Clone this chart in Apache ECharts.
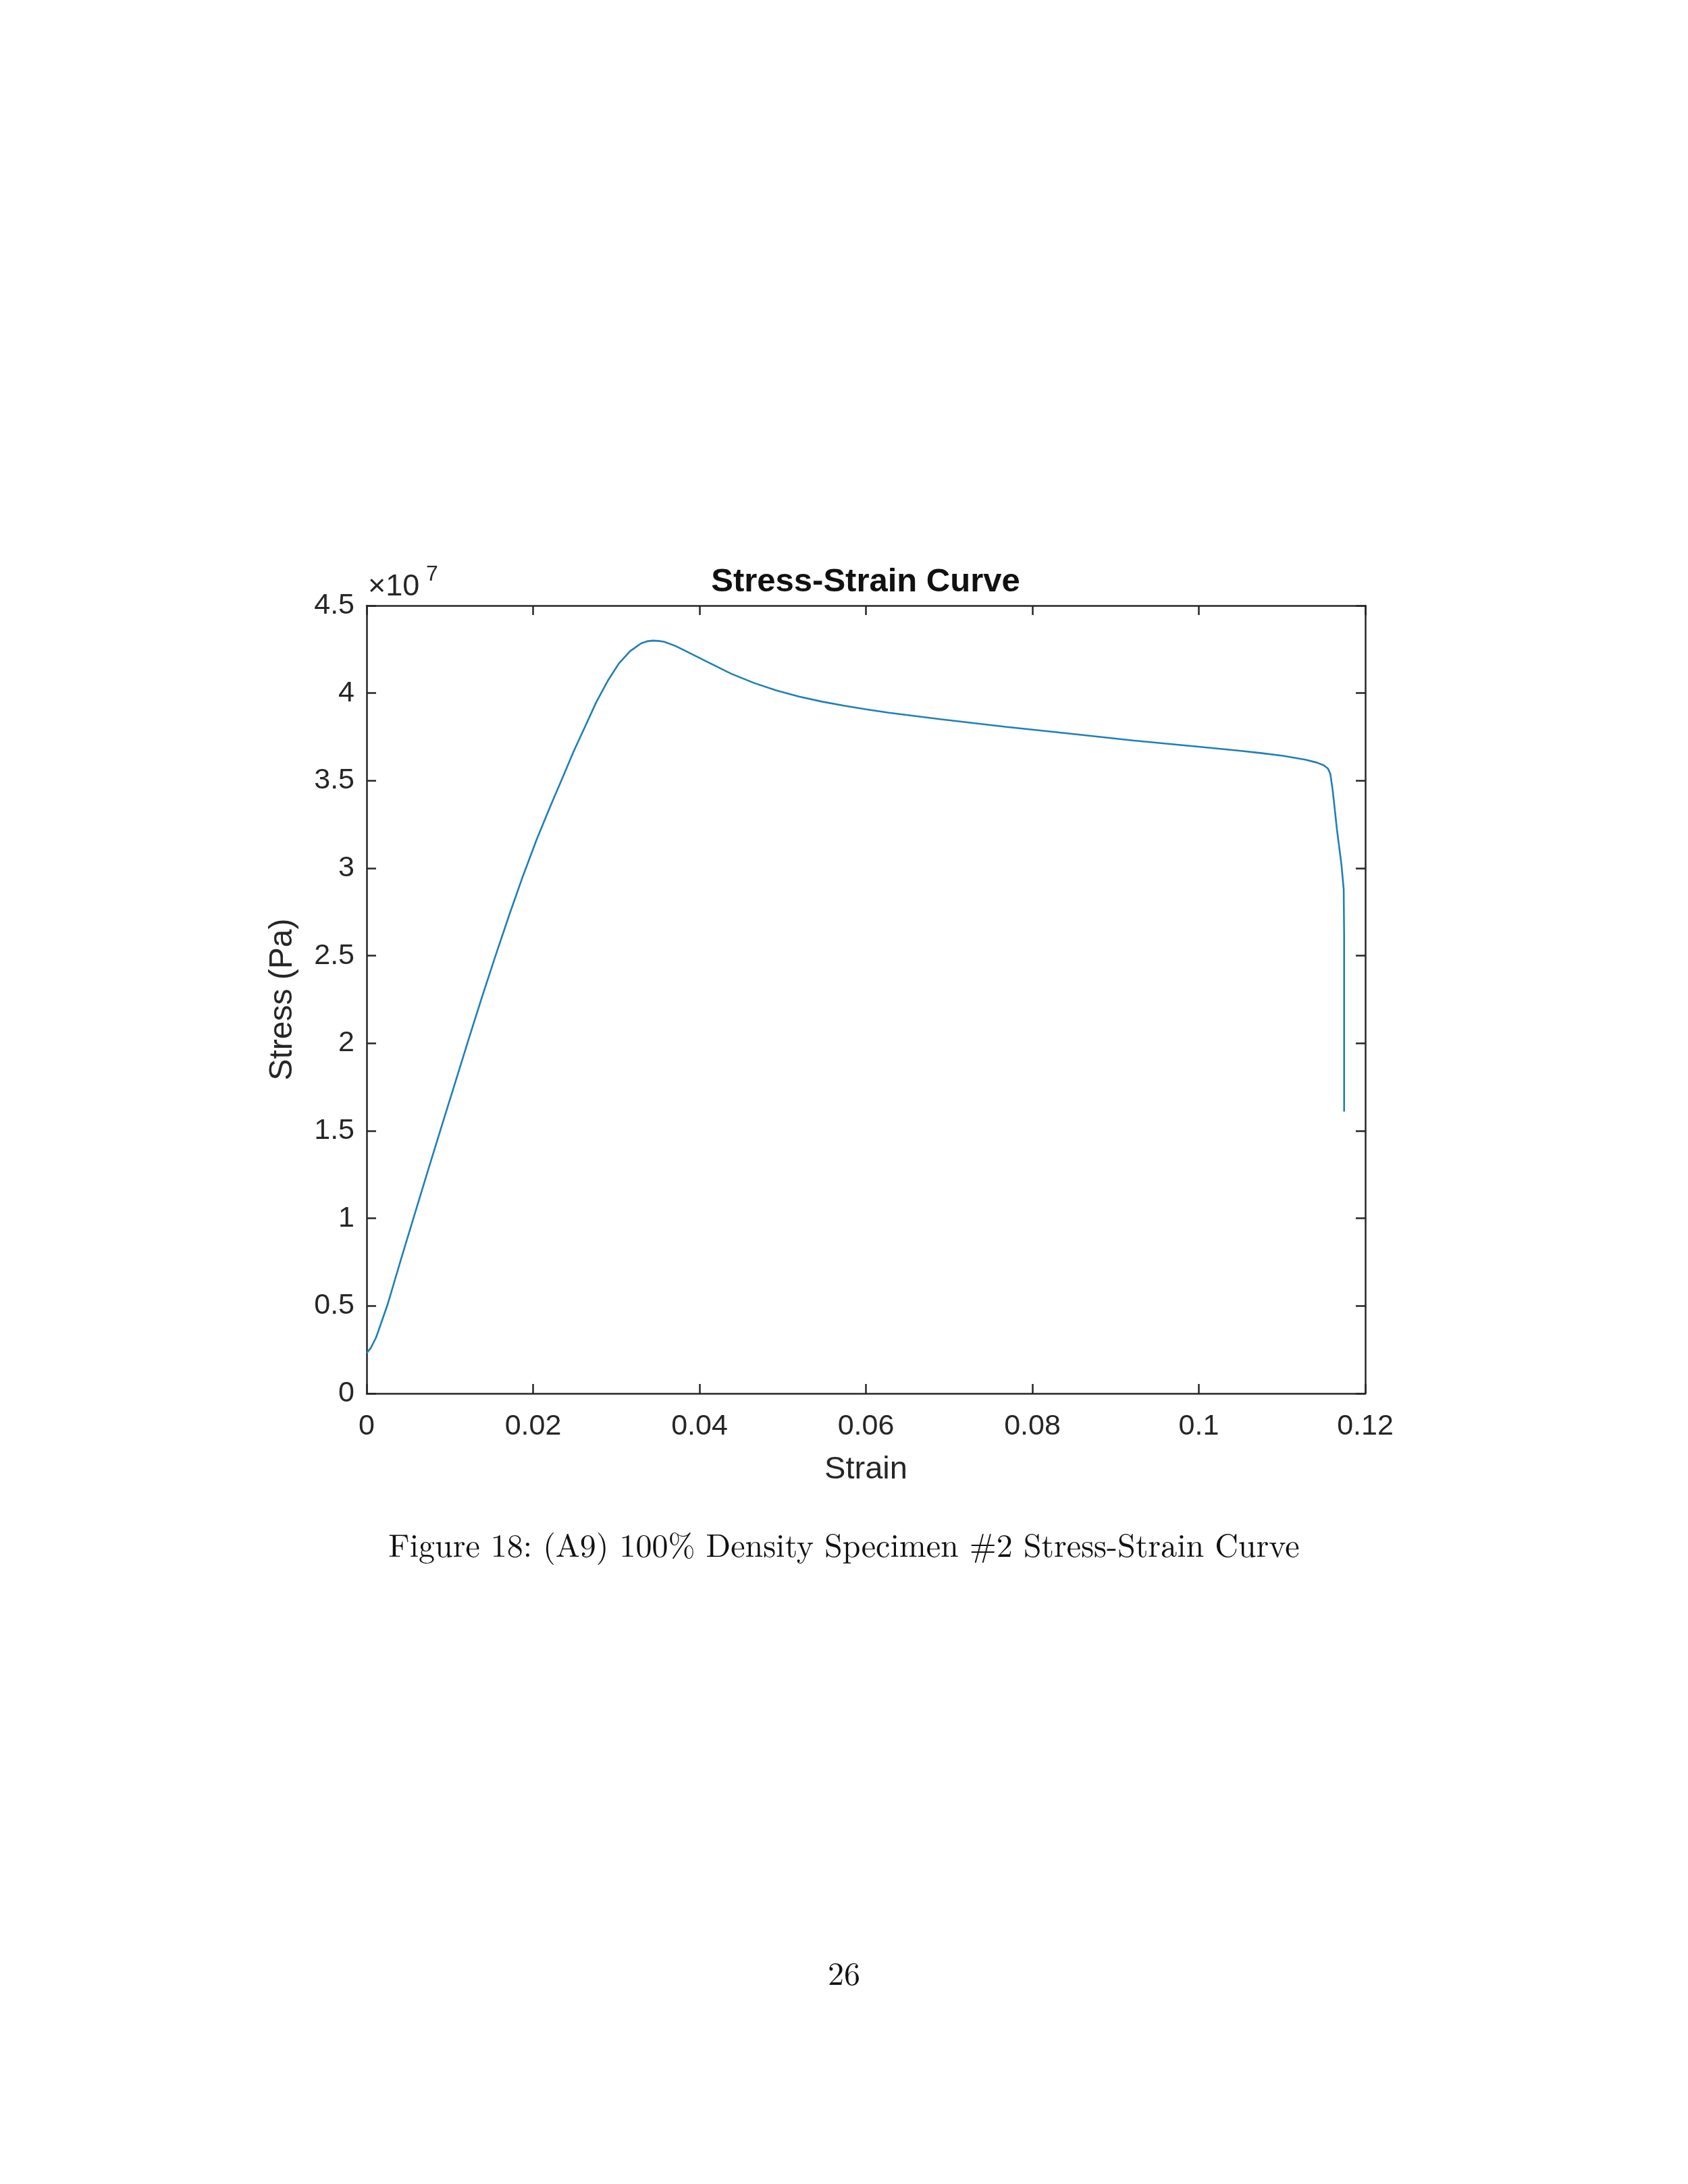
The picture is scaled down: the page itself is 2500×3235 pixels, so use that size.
<!DOCTYPE html>
<html>
<head>
<meta charset="utf-8">
<style>
  html, body { margin: 0; padding: 0; background: #ffffff; }
  #chart { width: 2500px; height: 3235px; }
</style>
<script src="https://cdn.jsdelivr.net/npm/echarts@6.0.0/dist/echarts.min.js"></script>
</head>
<body>
<div id="chart"></div>
<script>
// ---- Data ----
const strain = [
  0, 0.0005, 0.00114, 0.0025, 0.00412, 0.00575, 0.00738, 0.0090, 0.01064, 0.01227,
  0.0139, 0.01552, 0.01715, 0.01878, 0.0204, 0.02204, 0.02366, 0.0249, 0.02626, 0.02761,
  0.02897, 0.03032, 0.03167, 0.03302, 0.0337, 0.03438, 0.03505, 0.03573, 0.03708, 0.03843,
  0.04114, 0.04384, 0.04655, 0.04925, 0.05195, 0.05466, 0.05736, 0.06006, 0.06277, 0.06907,
  0.07673, 0.08438, 0.09204, 0.0997, 0.1047, 0.1074, 0.1101, 0.1128, 0.1142, 0.1150,
  0.1155, 0.1158, 0.1161, 0.1166, 0.11714, 0.11741, 0.11746, 0.11746, 0.11746
];
const stress = [
  2.3e6, 2.6e6, 3.2e6, 5.05e6, 7.65e6, 10.2e6, 12.75e6, 15.25e6, 17.75e6, 20.25e6,
  22.7e6, 25.05e6, 27.35e6, 29.55e6, 31.6e6, 33.5e6, 35.3e6, 36.7e6, 38.1e6, 39.5e6,
  40.7e6, 41.7e6, 42.4e6, 42.85e6, 42.96e6, 43.0e6, 42.98e6, 42.94e6, 42.7e6, 42.38e6,
  41.74e6, 41.1e6, 40.58e6, 40.15e6, 39.8e6, 39.52e6, 39.28e6, 39.07e6, 38.88e6, 38.5e6,
  38.08e6, 37.69e6, 37.3e6, 36.95e6, 36.72e6, 36.58e6, 36.42e6, 36.2e6, 36.03e6, 35.88e6,
  35.7e6, 35.4e6, 34.4e6, 32.2e6, 30.2e6, 28.8e6, 26.2e6, 21.9e6, 16.1e6
];
const xTicks = [0, 0.02, 0.04, 0.06, 0.08, 0.1, 0.12];
const yTicks = [0, 0.5, 1, 1.5, 2, 2.5, 3, 3.5, 4, 4.5]; // x 1e7

const titleText = 'Stress-Strain Curve';
const xName = 'Strain';
const yName = 'Stress (Pa)';
const caption = 'Figure 18: (A9) 100% Density Specimen #2 Stress-Strain Curve';
const pageNum = '26';

// ---- Chart ----
const chart = echarts.init(document.getElementById('chart'), null, { renderer: 'canvas' });
const axisCol = '#262626';
const sans = '"Liberation Sans", Arial, Helvetica, sans-serif';
const serif = '"Latin Modern Roman", "Liberation Serif", "DejaVu Serif", serif';

const G = { left: 543, top: 897, width: 1479, height: 1167 };

const baseAxisLine = { show: true, onZero: false, lineStyle: { color: axisCol, width: 2.5 } };
const baseTick = { show: true, inside: true, length: 14, lineStyle: { color: axisCol, width: 2.5 } };

const xFmt = v => String(parseFloat(v.toFixed(3)));
const yFmt = v => String(parseFloat((v / 1e7).toFixed(2)));

const option = {
  backgroundColor: '#ffffff',
  animation: false,
  grid: { left: G.left, top: G.top, width: G.width, height: G.height, containLabel: false },
  xAxis: [
    {
      type: 'value', position: 'bottom',
      min: xTicks[0], max: xTicks[xTicks.length - 1], interval: 0.02,
      axisLine: baseAxisLine, axisTick: baseTick, splitLine: { show: false },
      axisLabel: { show: true, margin: 28, color: axisCol, fontSize: 43, fontFamily: sans, formatter: xFmt },
      name: xName, nameLocation: 'middle', nameGap: 90,
      nameTextStyle: { color: axisCol, fontSize: 47, fontFamily: sans }
    },
    {
      type: 'value', position: 'top',
      min: xTicks[0], max: xTicks[xTicks.length - 1], interval: 0.02,
      axisLine: baseAxisLine, axisTick: baseTick, splitLine: { show: false },
      axisLabel: { show: false }
    }
  ],
  yAxis: [
    {
      type: 'value', position: 'left',
      min: yTicks[0] * 1e7, max: yTicks[yTicks.length - 1] * 1e7, interval: 0.5e7,
      axisLine: baseAxisLine, axisTick: baseTick, splitLine: { show: false },
      axisLabel: { show: true, margin: 18, color: axisCol, fontSize: 43, fontFamily: sans, formatter: yFmt },
      name: yName, nameLocation: 'middle', nameGap: 100, nameRotate: 90,
      nameTextStyle: { color: axisCol, fontSize: 48, fontFamily: sans }
    },
    {
      type: 'value', position: 'right',
      min: yTicks[0] * 1e7, max: yTicks[yTicks.length - 1] * 1e7, interval: 0.5e7,
      axisLine: baseAxisLine, axisTick: baseTick, splitLine: { show: false },
      axisLabel: { show: false }
    }
  ],
  series: [
    {
      type: 'line',
      xAxisIndex: 0, yAxisIndex: 0,
      data: strain.map((s, i) => [s, stress[i]]),
      showSymbol: false, symbol: 'none',
      smooth: false,
      lineStyle: { color: '#1f7fb8', width: 2.6 },
      clip: true
    }
  ],
  graphic: [
    { type: 'text', x: 1282, y: 862, style: { text: titleText, fill: '#111111', font: 'bold 49px ' + sans, textAlign: 'center', textVerticalAlign: 'middle' }, z: 10 },
    { type: 'text', x: 545, y: 870, style: { text: '×10', fill: axisCol, font: '45px ' + sans, textAlign: 'left', textVerticalAlign: 'middle' }, z: 10 },
    { type: 'text', x: 631, y: 851, style: { text: '7', fill: axisCol, font: '32px ' + sans, textAlign: 'left', textVerticalAlign: 'middle' }, z: 10 },
    { type: 'text', x: 1250, y: 2291, style: { text: caption, fill: '#111111', font: '48px ' + serif, textAlign: 'center', textVerticalAlign: 'middle' }, z: 10 },
    { type: 'text', x: 1250, y: 2925, style: { text: pageNum, fill: '#111111', font: '48px ' + serif, textAlign: 'center', textVerticalAlign: 'middle' }, z: 10 }
  ]
};
chart.setOption(option);
</script>
</body>
</html>
